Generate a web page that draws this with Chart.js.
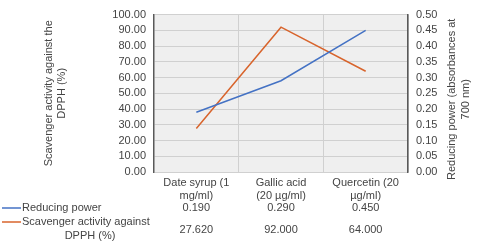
<!DOCTYPE html>
<html>
<head>
<meta charset="utf-8">
<script src="https://cdn.jsdelivr.net/npm/chart.js@4/dist/chart.umd.min.js"></script>
<style>
  html, body { margin: 0; padding: 0; background: #fff; }
  #wrap { width: 480px; height: 250px; }
</style>
</head>
<body>
<div id="wrap"><canvas id="ch" width="480" height="250"></canvas></div>
<script>
/* dati */
const categories = [['Date syrup (1', 'mg/ml)'], ['Gallic acid', '(20 µg/ml)'], ['Quercetin (20', 'µg/ml)']];
const reducingPower = [0.190, 0.290, 0.450];
const scavenger = [27.620, 92.000, 64.000];
const seriesNames = ['Reducing power', ['Scavenger activity against', 'DPPH (%)']];
const rightTitle = ['Reducing power (absorbances at', '700 nm)'];

const BLUE = '#4472c4', ORANGE = '#d8642c';
const TXT = '#444';
const FONT = '"Liberation Sans", Arial, sans-serif';

/* sfondo area grafico, titolo asse destro e tabella dati sotto l'asse x */
const plotBg = {
  id: 'plotBg',
  beforeDraw(chart) {
    const { ctx, chartArea: a } = chart;
    ctx.save();
    ctx.fillStyle = '#efefef';
    ctx.fillRect(a.left, a.top, a.right - a.left, a.bottom - a.top);
    ctx.restore();
  },
  afterDraw(chart) {
    const { ctx, chartArea: a } = chart;
    const x = chart.scales.x;
    ctx.save();
    ctx.font = '11px ' + FONT;
    ctx.fillStyle = TXT;
    ctx.textAlign = 'center';
    ctx.textBaseline = 'middle';
    reducingPower.forEach((v, i) => ctx.fillText(v.toFixed(3), x.getPixelForValue(i), 208));
    scavenger.forEach((v, i) => ctx.fillText(v.toFixed(3), x.getPixelForValue(i), 230));
    // legenda a sinistra della tabella
    ctx.lineWidth = 1.5;
    ctx.strokeStyle = BLUE;
    ctx.beginPath(); ctx.moveTo(2, 208); ctx.lineTo(21, 208); ctx.stroke();
    ctx.strokeStyle = ORANGE;
    ctx.beginPath(); ctx.moveTo(2, 222); ctx.lineTo(21, 222); ctx.stroke();
    ctx.textAlign = 'left';
    ctx.fillText(seriesNames[0], 22, 208);
    ctx.fillText(seriesNames[1][0], 22, 222);
    ctx.textAlign = 'center';
    ctx.fillText(seriesNames[1][1], 90, 236);
    // titolo asse destro, letto dal basso verso l'alto come in Excel
    ctx.translate(459, (a.top + a.bottom) / 2 + 6);
    ctx.rotate(-Math.PI / 2);
    ctx.fillText(rightTitle[0], 0, -7);
    ctx.fillText(rightTitle[1], 0, 7);
    ctx.restore();
  }
};

new Chart(document.getElementById('ch'), {
  type: 'line',
  data: {
    labels: categories,
    datasets: [
      { label: 'Reducing power', data: reducingPower, yAxisID: 'y1', borderColor: BLUE, borderWidth: 1.5, pointRadius: 0, tension: 0 },
      { label: 'Scavenger activity against DPPH (%)', data: scavenger, yAxisID: 'y', borderColor: ORANGE, borderWidth: 1.5, pointRadius: 0, tension: 0 }
    ]
  },
  options: {
    responsive: false, animation: false,
    layout: { padding: { top: 12, left: 0, right: 0, bottom: 0 } },
    plugins: { legend: { display: false }, tooltip: { enabled: false } },
    scales: {
      x: {
        offset: true,
        grid: { offset: true, color: '#d0d0d0', drawTicks: false },
        border: { display: false },
        ticks: { color: TXT, font: { family: FONT, size: 11 }, maxRotation: 0, autoSkip: false, padding: 4 },
        afterFit(s) { s.height = 78; }
      },
      y: {
        position: 'left', min: 0, max: 100,
        ticks: { stepSize: 10, autoSkip: false, color: TXT, font: { family: FONT, size: 11 }, padding: 8, callback: v => v.toFixed(2) },
        grid: { color: '#d0d0d0', drawTicks: false },
        border: { color: '#595959', width: 1.5 },
        title: { display: true, text: ['Scavenger activity against the', 'DPPH (%)'], color: TXT, font: { family: FONT, size: 11 }, padding: { top: 42, bottom: 0 } },
        afterFit(s) { s.width = 154; }
      },
      y1: {
        position: 'right', min: 0, max: 0.5,
        ticks: { stepSize: 0.05, autoSkip: false, color: TXT, font: { family: FONT, size: 11 }, padding: 8, callback: v => v.toFixed(2) },
        grid: { drawOnChartArea: false, drawTicks: false },
        border: { color: '#595959', width: 1.5 },
        afterFit(s) { s.width = 72; }
      }
    }
  },
  plugins: [plotBg]
});
</script>
</body>
</html>
